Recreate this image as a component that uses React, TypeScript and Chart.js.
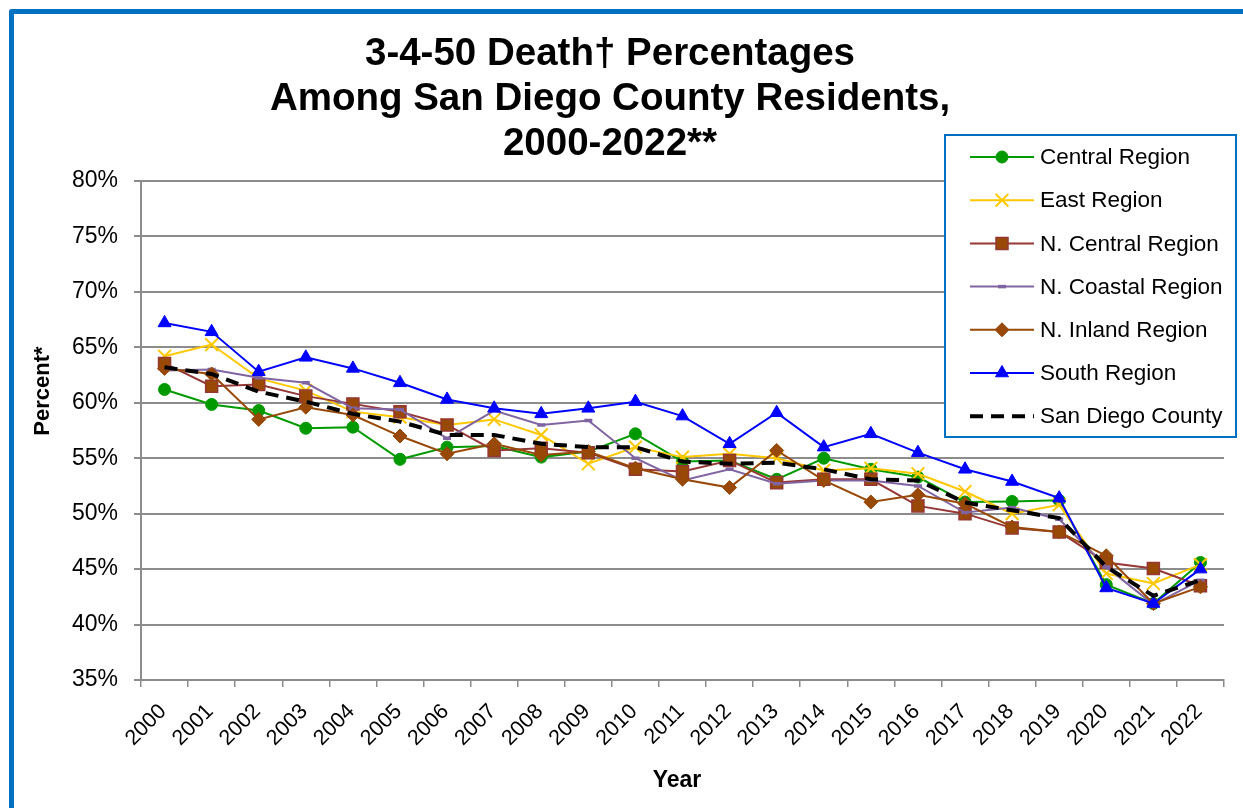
import React, { useEffect, useRef } from 'react';
import { Chart, registerables } from 'chart.js';

Chart.register(...registerables);

const years = ['2000','2001','2002','2003','2004','2005','2006','2007','2008','2009','2010','2011','2012','2013','2014','2015','2016','2017','2018','2019','2020','2021','2022'];

const central = [61.2, 59.85, 59.3, 57.7, 57.8, 54.9, 56.0, 56.1, 55.1, 55.6, 57.2, 54.7, 54.8, 53.1, 55.0, 54.0, 53.3, 51.05, 51.1, 51.2, 43.6, 41.9, 45.6];
const east = [64.2, 65.25, 62.2, 61.1, 59.2, 58.7, 58.0, 58.5, 57.1, 54.5, 56.0, 55.1, 55.4, 55.0, 53.9, 54.1, 53.6, 52.0, 50.0, 50.8, 44.6, 43.7, 45.4];
const nCentral = [63.55, 61.5, 61.65, 60.6, 59.9, 59.2, 58.0, 55.7, 55.9, 55.5, 54.0, 53.8, 54.8, 52.8, 53.1, 53.1, 50.7, 50.0, 48.7, 48.35, 45.6, 45.05, 43.5];
const nCoastal = [62.9, 63.0, 62.25, 61.8, 59.5, 59.4, 56.8, 59.3, 58.0, 58.4, 55.0, 53.0, 54.0, 52.7, 53.0, 53.0, 52.5, 50.1, 50.55, 49.5, 45.2, 41.8, 44.0];
const nInland = [63.1, 62.6, 58.5, 59.6, 58.9, 57.0, 55.4, 56.3, 55.3, 55.6, 54.1, 53.1, 52.35, 55.7, 53.0, 51.05, 51.7, 50.9, 48.8, 48.35, 46.2, 41.9, 43.4];
const south = [67.2, 66.4, 62.8, 64.1, 63.1, 61.8, 60.3, 59.5, 59.0, 59.5, 60.1, 58.8, 56.3, 59.1, 56.0, 57.2, 55.5, 54.0, 52.9, 51.4, 43.3, 41.9, 45.0];
const county = [63.2, 62.6, 61.0, 60.1, 59.0, 58.3, 57.1, 57.1, 56.3, 56.0, 56.0, 54.7, 54.5, 54.6, 54.0, 53.1, 53.0, 51.0, 50.3, 49.6, 45.2, 42.6, 44.0];

const titleLines = ['3-4-50 Death\u2020 Percentages', 'Among San Diego County Residents,', '2000-2022**'];
const yTitle = 'Percent*';
const xTitle = 'Year';

const FONT = '"Liberation Sans", Arial, Helvetica, sans-serif';
const GRID = '#8C8C8C';

function drawMarker(ctx: CanvasRenderingContext2D, style: string, x: number, y: number, r: number) {
  ctx.beginPath();
  if (style === 'circle') {
    ctx.arc(x, y, r, 0, Math.PI * 2);
    ctx.fill(); ctx.stroke();
  } else if (style === 'crossRot') {
    const d = r * Math.SQRT1_2;
    ctx.moveTo(x - d, y - d); ctx.lineTo(x + d, y + d);
    ctx.moveTo(x + d, y - d); ctx.lineTo(x - d, y + d);
    ctx.stroke();
  } else if (style === 'rect') {
    const s = r * Math.SQRT1_2;
    ctx.rect(x - s, y - s, 2 * s, 2 * s);
    ctx.fill(); ctx.stroke();
  } else if (style === 'line') {
    ctx.moveTo(x - r, y); ctx.lineTo(x + r, y);
    ctx.stroke();
  } else if (style === 'rectRot') {
    ctx.moveTo(x, y - r); ctx.lineTo(x + r, y); ctx.lineTo(x, y + r); ctx.lineTo(x - r, y);
    ctx.closePath(); ctx.fill(); ctx.stroke();
  } else if (style === 'triangle') {
    const a = Math.PI * 2 / 3;
    ctx.moveTo(x, y - r);
    ctx.lineTo(x + Math.sin(a) * r, y - Math.cos(a) * r);
    ctx.lineTo(x + Math.sin(2 * a) * r, y - Math.cos(2 * a) * r);
    ctx.closePath(); ctx.fill(); ctx.stroke();
  }
}

export default function App() {
  const ref = useRef<HTMLCanvasElement>(null);

  useEffect(() => {
    const canvas = ref.current;
    if (!canvas) return;

    const framePlugin = {
      id: 'framePlugin',
      beforeDraw(chart: any) {
        const ctx = chart.ctx as CanvasRenderingContext2D;
        ctx.save();
        ctx.fillStyle = '#ffffff';
        ctx.fillRect(0, 0, chart.width, chart.height);
        ctx.strokeStyle = '#0070C0';
        ctx.lineWidth = 5;
        ctx.lineJoin = 'round';
        ctx.beginPath();
        ctx.moveTo(11.5, chart.height + 20);
        ctx.lineTo(11.5, 11.5);
        ctx.lineTo(chart.width + 20, 11.5);
        ctx.stroke();

        ctx.fillStyle = '#000';
        ctx.textAlign = 'center';
        ctx.textBaseline = 'alphabetic';
        ctx.font = `bold 38.5px ${FONT}`;
        titleLines.forEach((t, i) => ctx.fillText(t, 610, 65 + i * 45));

        ctx.font = `bold 23px ${FONT}`;
        ctx.textBaseline = 'middle';
        ctx.fillText(xTitle, 677, 781);
        ctx.font = `bold 22px ${FONT}`;
        ctx.save();
        ctx.translate(43, 391);
        ctx.rotate(-Math.PI / 2);
        ctx.fillText(yTitle, 0, 0);
        ctx.restore();
        ctx.restore();
      },
      afterDraw(chart: any) {
        const ctx = chart.ctx as CanvasRenderingContext2D;
        ctx.save();
        const bx = 945, by = 135, bw = 291, bh = 302;
        ctx.fillStyle = '#fff';
        ctx.fillRect(bx, by, bw, bh);
        ctx.strokeStyle = '#0070C0';
        ctx.lineWidth = 2;
        ctx.strokeRect(bx, by, bw, bh);
        chart.data.datasets.forEach((ds: any, i: number) => {
          const y = 157 + i * 43.2;
          ctx.strokeStyle = ds.borderColor;
          ctx.lineWidth = ds.borderWidth;
          ctx.setLineDash(ds.borderDash || []);
          ctx.beginPath();
          ctx.moveTo(970, y);
          ctx.lineTo(1034, y);
          ctx.stroke();
          ctx.setLineDash([]);
          if (ds.pointRadius > 0) {
            ctx.fillStyle = ds.pointBackgroundColor;
            ctx.strokeStyle = ds.pointBorderColor;
            ctx.lineWidth = ds.pointBorderWidth;
            drawMarker(ctx, ds.pointStyle, 1002, y, ds.pointRadius);
          }
          ctx.fillStyle = '#000';
          ctx.font = `22.5px ${FONT}`;
          ctx.textAlign = 'left';
          ctx.textBaseline = 'middle';
          ctx.fillText(ds.label, 1040, y + 1);
        });
        ctx.restore();
      },
    };

    const mk = (label: string, data: number[], color: string, style: string, radius: number, fill: string, pbw: number, order: number, extra: any = {}) => ({
      label,
      data,
      borderColor: color,
      backgroundColor: fill,
      borderWidth: 2,
      pointStyle: style,
      pointRadius: radius,
      pointHoverRadius: radius,
      pointBackgroundColor: fill,
      pointBorderColor: extra.pointBorderColor || color,
      pointBorderWidth: pbw,
      tension: 0,
      fill: false,
      order,
      ...extra,
    });

    const chart = new Chart(canvas, {
      type: 'line',
      data: {
        labels: years,
        datasets: [
          mk('Central Region', central, '#009A00', 'circle', 6, '#009A00', 1, 6),
          mk('East Region', east, '#FFC800', 'crossRot', 9, '#FFC800', 2, 5),
          mk('N. Central Region', nCentral, '#953735', 'rect', 8.5, '#984807', 1.5, 4, { pointBorderColor: '#953735' }),
          mk('N. Coastal Region', nCoastal, '#8064A2', 'line', 4, '#8064A2', 3.5, 3),
          mk('N. Inland Region', nInland, '#984807', 'rectRot', 7, '#984807', 1, 2),
          mk('South Region', south, '#0000FF', 'triangle', 7.5, '#0000FF', 1, 1),
          mk('San Diego County', county, '#000000', 'circle', 0, '#000000', 0, 0, { borderWidth: 4, borderDash: [13, 8] }),
        ],
      },
      options: {
        responsive: false,
        animation: false,
        devicePixelRatio: 1,
        layout: { padding: { top: 181, right: 19, bottom: 0, left: 0 } },
        plugins: {
          legend: { display: false },
          title: { display: false },
          tooltip: { enabled: false },
        },
        scales: {
          x: {
            type: 'category',
            offset: true,
            afterFit: (s: any) => { s.height = 128; },
            grid: { display: true, drawOnChartArea: false, drawTicks: true, tickLength: 7, offset: true, color: GRID, lineWidth: 1.5 },
            border: { display: true, color: GRID, width: 2 },
            ticks: {
              autoSkip: false,
              maxRotation: 45,
              minRotation: 45,
              labelOffset: -1.5,
              padding: 12,
              color: '#000',
              font: { family: FONT, size: 21.5 },
            },
          },
          y: {
            min: 35,
            max: 80,
            afterFit: (s: any) => { s.width = 141; },
            grid: { color: GRID, lineWidth: 2, drawTicks: true, tickLength: 7 },
            border: { display: true, color: GRID, width: 2 },
            ticks: {
              stepSize: 5,
              padding: 16,
              color: '#000',
              font: { family: FONT, size: 23 },
              callback: (v: any) => `${v}%`,
            },
          },
        },
      },
      plugins: [framePlugin],
    });

    return () => chart.destroy();
  }, []);

  return (
    <canvas
      ref={ref}
      width={1243}
      height={808}
      style={{ position: 'fixed', left: 0, top: 0, width: 1243, height: 808, display: 'block' }}
    />
  );
}
